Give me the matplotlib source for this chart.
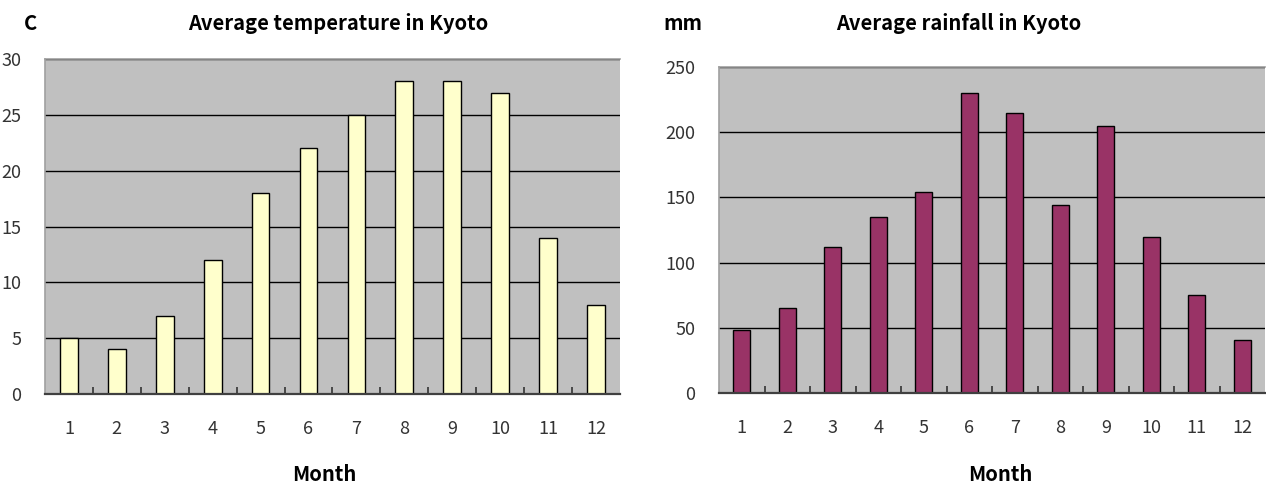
import matplotlib
matplotlib.use('Agg')
import matplotlib.pyplot as plt
import numpy as np

plt.rcParams['font.family'] = ['Noto Sans CJK JP', 'DejaVu Sans']

# 京都の月別平均気温・降水量
months = ['1', '2', '3', '4', '5', '6', '7', '8', '9', '10', '11', '12']
temperature = [5, 4, 7, 12, 18, 22, 25, 28, 28, 27, 14, 8]
rainfall = [48, 65, 112, 135, 154, 230, 215, 144, 205, 120, 75, 41]

temp_ticks = [0, 5, 10, 15, 20, 25, 30]
rain_ticks = [0, 50, 100, 150, 200, 250]

fig = plt.figure(figsize=(12.66, 4.88), dpi=100)
fig.patch.set_facecolor('white')


def draw_panel(ax, values, yticks, color):
    x = np.arange(len(months))
    ax.set_facecolor('#C0C0C0')
    ax.set_axisbelow(True)
    ax.yaxis.grid(True, color='black', linewidth=1.0)
    ax.bar(x, values, width=0.37, color=color, edgecolor='black', linewidth=1.0, zorder=3)
    ax.set_xlim(-0.5, len(months) - 0.5)
    ax.set_ylim(yticks[0], yticks[-1])
    ax.set_yticks(yticks)
    ax.set_xticks(x)
    ax.set_xticklabels(months)
    ax.set_xticks(np.arange(0.5, len(months) - 1), minor=True)
    ax.tick_params(axis='x', which='major', length=0, pad=19, labelsize=13, labelcolor='#333333')
    ax.tick_params(axis='x', which='minor', direction='in', length=5, width=1.2, color='#333333')
    ax.tick_params(axis='y', length=0, pad=17, labelsize=13, labelcolor='#333333')
    for side in ['top', 'left', 'right']:
        ax.spines[side].set_color('#A0A0A0')
        ax.spines[side].set_linewidth(1.2)
    ax.spines['right'].set_visible(False)
    ax.spines['bottom'].set_color('#404040')
    ax.spines['bottom'].set_linewidth(1.6)
    ax.spines['bottom'].set_zorder(4)


# 左：気温
ax1 = fig.add_axes([0.0355, 0.1926, 0.4542, 0.6864])
draw_panel(ax1, temperature, temp_ticks, '#FFFFCC')

# 右：降水量
ax2 = fig.add_axes([0.568, 0.1947, 0.4313, 0.668])
draw_panel(ax2, rainfall, rain_ticks, '#993366')

bold = dict(fontsize=14.5, fontweight='bold', color='black', ha='center', va='center')
fig.text(0.267, 0.951, 'Average temperature in Kyoto', **bold)
fig.text(0.757, 0.951, 'Average rainfall in Kyoto', **bold)
fig.text(0.0237, 0.951, 'C', **bold)
fig.text(0.5395, 0.951, 'mm', **bold)
fig.text(0.256, 0.028, 'Month', **bold)
fig.text(0.79, 0.028, 'Month', **bold)

fig.savefig('out.png', dpi=100)
